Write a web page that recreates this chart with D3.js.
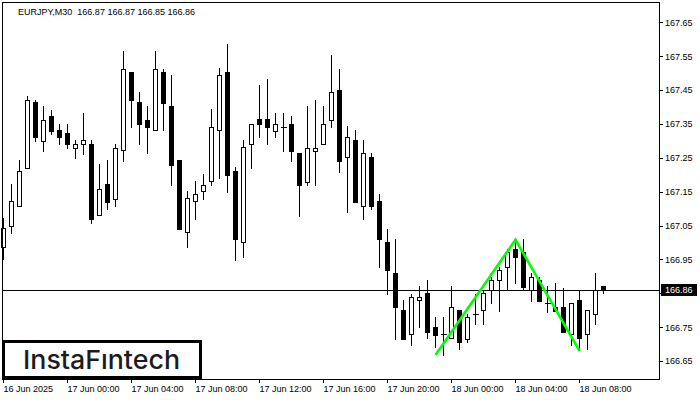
<!DOCTYPE html>
<html>
<head>
<meta charset="utf-8">
<script src="https://cdn.jsdelivr.net/npm/d3@7"></script>
<style>
  html, body { margin: 0; padding: 0; background: #ffffff; }
  svg { display: block; }
</style>
</head>
<body>
<script>
// ---------- data (EURJPY, M30) ----------
const barIndex = d3.range(76);
const opens = [166.986,167.049,167.108,167.221,167.414,167.300,167.373,167.331,167.322,167.280,
  167.292,167.292,167.080,167.172,167.129,167.272,167.503,167.414,167.363,167.331,
  167.503,167.402,167.243,167.030,167.121,167.151,167.180,167.331,167.503,167.210,
  167.000,167.292,167.364,167.364,167.330,167.342,167.351,167.263,167.179,167.270,
  167.292,167.363,167.451,167.251,167.302,167.109,167.251,167.122,167.000,166.909,
  166.800,166.729,166.829,166.850,166.749,166.730,166.717,166.800,166.716,166.789,
  166.800,166.859,166.888,166.928,166.980,166.971,166.859,166.889,166.820,166.810,
  166.810,166.729,166.830,166.729,166.788,166.870];
const highs = [167.072,167.172,167.243,167.432,167.422,167.402,167.392,167.351,167.351,167.302,
  167.382,167.302,167.231,167.243,167.292,167.565,167.503,167.444,167.402,167.565,
  167.513,167.494,167.243,167.151,167.181,167.202,167.393,167.514,167.585,167.222,
  167.302,167.351,167.464,167.484,167.381,167.381,167.373,167.263,167.402,167.422,
  167.402,167.553,167.513,167.343,167.331,167.302,167.263,167.143,167.041,167.009,
  166.829,166.849,166.871,166.888,166.780,166.779,166.871,166.800,166.789,166.848,
  166.859,166.899,166.928,166.980,167.007,167.009,166.909,166.899,166.871,166.879,
  166.865,166.820,166.859,166.800,166.909,166.870];
const lows = [166.950,167.028,167.108,167.221,167.300,167.270,167.320,167.290,167.278,167.250,
  167.261,167.058,167.080,167.099,167.107,167.241,167.341,167.292,167.263,167.331,
  167.331,167.170,167.040,166.987,167.070,167.129,167.170,167.190,167.149,166.949,
  166.958,167.220,167.312,167.291,167.312,167.270,167.241,167.079,167.171,167.169,
  167.292,167.341,167.208,167.090,167.120,167.070,167.099,166.928,166.848,166.716,
  166.716,166.698,166.749,166.718,166.692,166.667,166.717,166.686,166.707,166.758,
  166.758,166.820,166.798,166.859,166.879,166.859,166.828,166.828,166.795,166.798,
  166.736,166.697,166.682,166.685,166.758,166.850];
const closes = [167.042,167.121,167.210,167.422,167.312,167.363,167.329,167.312,167.292,167.292,
  167.302,167.070,167.159,167.119,167.280,167.513,167.422,167.351,167.341,167.513,
  167.412,167.229,167.040,167.130,167.142,167.171,167.342,167.493,167.200,167.009,
  167.281,167.351,167.350,167.341,167.351,167.342,167.270,167.171,167.280,167.280,
  167.351,167.443,167.241,167.312,167.120,167.263,167.109,167.009,166.920,166.808,
  166.716,166.838,166.838,166.736,166.728,166.730,166.808,166.707,166.779,166.789,
  166.850,166.888,166.920,166.971,166.958,166.869,166.899,166.828,166.820,166.798,
  166.736,166.820,166.717,166.800,166.859,166.860];

const timeTickIndex = [0, 8, 16, 24, 32, 40, 48, 56, 64, 72];
const timeTickLabels = ["16 Jun 2025","17 Jun 00:00","17 Jun 04:00","17 Jun 08:00","17 Jun 12:00",
  "17 Jun 16:00","17 Jun 20:00","18 Jun 00:00","18 Jun 04:00","18 Jun 08:00"];
const priceTicks = [166.65,166.75,166.85,166.95,167.05,167.15,167.25,167.35,167.45,167.55,167.65];
const currentPrice = 166.86;
const titleText = "EURJPY,M30  166.87 166.87 166.85 166.86";
// double top pattern: [bar index, price]
const patternIdx = [54, 64, 72];
const patternPrice = [166.668, 167.008, 166.680];

// ---------- drawing ----------
const svg = d3.select("body").append("svg").attr("width", 700).attr("height", 400);
const font = "'Liberation Sans', Arial, sans-serif";

const x = d3.scaleLinear().domain([0, 75]).range([3, 603]);
const y = d3.scaleLinear().domain([166.65, 167.65]).range([361, 22.3]);
const snap = v => Math.round(v) + 0.5;

const frame = {l: 2.5, t: 2.5, r: 659.5, b: 379.5};

// current price line
svg.append("line")
  .attr("x1", frame.l).attr("x2", frame.r)
  .attr("y1", snap(y(currentPrice))).attr("y2", snap(y(currentPrice)))
  .attr("stroke", "#000").attr("stroke-width", 1).attr("shape-rendering", "crispEdges");

// candles
const candles = svg.append("g").attr("shape-rendering", "crispEdges");
barIndex.forEach(i => {
  const cx = x(i) + 0.5;
  const o = opens[i], c = closes[i];
  const g = candles.append("g");
  g.append("line")
    .attr("x1", cx).attr("x2", cx)
    .attr("y1", Math.round(y(highs[i]))).attr("y2", Math.round(y(lows[i])) + 1)
    .attr("stroke", "#000").attr("stroke-width", 1);
  const yt = Math.round(y(Math.max(o, c)));
  const yb = Math.round(y(Math.min(o, c)));
  if (yb - yt < 1) {
    g.append("line")
      .attr("x1", cx - 2.5).attr("x2", cx + 3.5)
      .attr("y1", yt + 0.5).attr("y2", yt + 0.5)
      .attr("stroke", "#000").attr("stroke-width", 1);
  } else {
    g.append("rect")
      .attr("x", cx - 2).attr("y", yt + 0.5)
      .attr("width", 4).attr("height", yb - yt)
      .attr("fill", c >= o ? "#ffffff" : "#000000")
      .attr("stroke", "#000").attr("stroke-width", 1);
  }
});

// pattern lines
svg.append("path")
  .datum(patternIdx.map((d, i) => [d, patternPrice[i]]))
  .attr("d", d3.line().x(d => x(d[0]) + 0.5).y(d => y(d[1])))
  .attr("fill", "none").attr("stroke", "#00ff00").attr("stroke-width", 2.6)
  .attr("stroke-linejoin", "miter");

// frame
svg.append("rect")
  .attr("x", frame.l).attr("y", frame.t)
  .attr("width", frame.r - frame.l).attr("height", frame.b - frame.t)
  .attr("fill", "none").attr("stroke", "#000").attr("stroke-width", 1)
  .attr("shape-rendering", "crispEdges");

// bottom axis
const xAxis = d3.axisBottom(x).tickValues(timeTickIndex)
  .tickFormat((d, i) => timeTickLabels[i]).tickSize(4).tickPadding(3);
const gx = svg.append("g").attr("transform", "translate(0,379)").call(xAxis);
gx.select(".domain").remove();
gx.selectAll(".tick line").attr("stroke", "#000").attr("shape-rendering", "crispEdges");
gx.selectAll(".tick text")
  .attr("text-anchor", "start").attr("x", 0).attr("y", 0).attr("dy", 0)
  .attr("transform", "translate(0,13)")
  .attr("fill", "#000").style("font-family", font).style("font-size", "9px");

// right axis (labels hidden under the current-price box are left blank, as in the terminal)
const fmt = d3.format(".2f");
const yAxis = d3.axisRight(y).tickValues(priceTicks)
  .tickFormat(d => Math.abs(y(d) - y(currentPrice)) < 11 ? "" : fmt(d))
  .tickSize(4).tickPadding(2);
const gy = svg.append("g").attr("transform", "translate(659,0)").call(yAxis);
gy.select(".domain").remove();
gy.selectAll(".tick line").attr("stroke", "#000").attr("shape-rendering", "crispEdges");
gy.selectAll(".tick text").attr("fill", "#000")
  .style("font-family", font).style("font-size", "9px");

// current price label
const cpY = y(currentPrice);
svg.append("rect").attr("x", 661).attr("y", Math.round(cpY) - 6)
  .attr("width", 36).attr("height", 12).attr("fill", "#000");
svg.append("text").attr("x", 665).attr("y", cpY).attr("dy", "0.35em")
  .attr("fill", "#fff").style("font-family", font).style("font-size", "9px")
  .text(fmt(currentPrice));

// title
svg.append("text").attr("x", 18).attr("y", 14.5)
  .attr("fill", "#000").style("font-family", font).style("font-size", "9px")
  .attr("xml:space", "preserve").style("white-space", "pre")
  .text(titleText);

// logo
svg.append("rect").attr("x", 3.5).attr("y", 341.5).attr("width", 197).attr("height", 36)
  .attr("fill", "#fff").attr("stroke", "#000").attr("stroke-width", 3);
svg.append("text").attr("x", 23).attr("y", 368.5)
  .attr("textLength", 157).attr("lengthAdjust", "spacingAndGlyphs")
  .attr("fill", "#1c1c1c").style("font-family", "Inter, 'Open Sans', sans-serif")
  .style("font-size", "26px").style("font-weight", 500)
  .text("InstaF\u0131ntech");
</script>
</body>
</html>
